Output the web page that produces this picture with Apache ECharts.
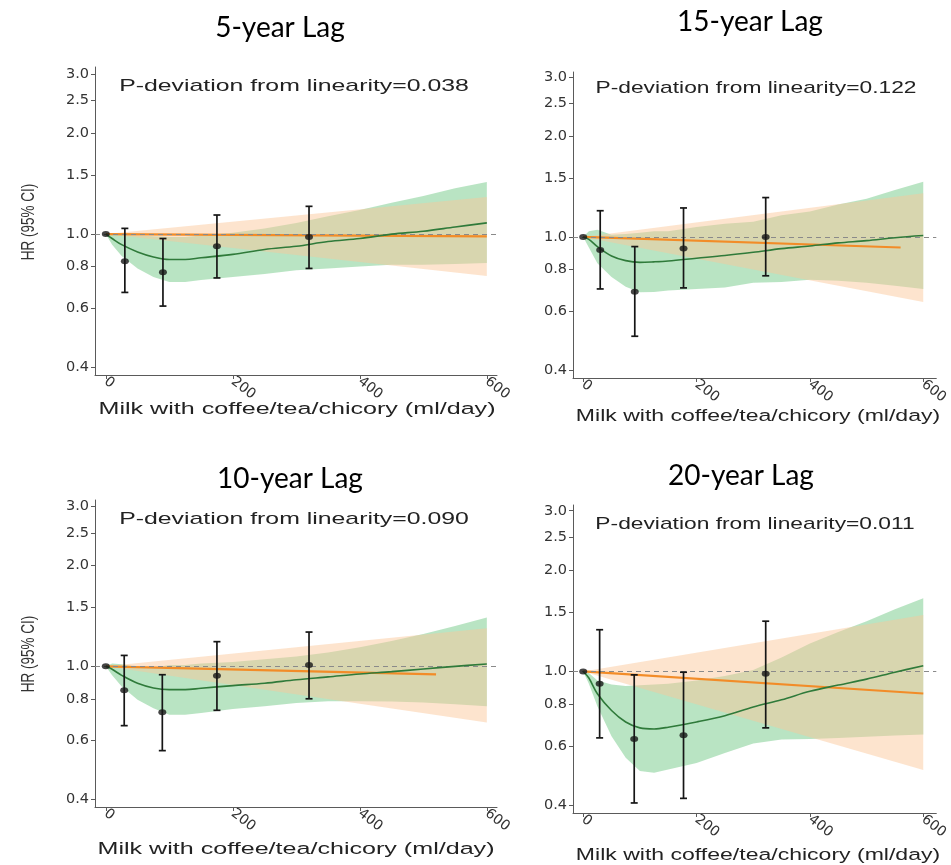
<!DOCTYPE html>
<html>
<head>
<meta charset="utf-8">
<script src="https://cdn.jsdelivr.net/npm/echarts@6/dist/echarts.min.js"></script>
<style>html,body{margin:0;padding:0;background:#fff}#c{width:951px;height:865px}</style>
</head>
<body>
<div id="c"></div>
<script>
// ---------- texts & ticks ----------
const panelTitles = ['5-year Lag', '15-year Lag', '10-year Lag', '20-year Lag'];
const pDeviation = ['0.038', '0.122', '0.090', '0.011'];
const xAxisTitle = 'Milk with coffee/tea/chicory (ml/day)';
const yAxisTitle = 'HR (95% CI)';
const xTickVals = [0, 200, 400, 600];
const yTickVals = [0.4, 0.6, 0.8, 1.0, 1.5, 2.0, 2.5, 3.0];

// ---------- spline x grid (ml/day) ----------
const splineX = [0, 10, 25, 50, 75, 100, 125, 150, 200, 250, 300, 350, 400, 450, 500, 550, 600];

// ---------- 5-year lag ----------
const spline5   = [1.0, 0.97, 0.93, 0.885, 0.855, 0.84, 0.84, 0.85, 0.87, 0.90, 0.92, 0.95, 0.97, 1.0, 1.02, 1.05, 1.08];
const splineLo5 = [1.0, 0.93, 0.86, 0.79, 0.745, 0.72, 0.72, 0.73, 0.745, 0.76, 0.78, 0.79, 0.80, 0.81, 0.81, 0.815, 0.82];
const splineHi5 = [1.0, 1.0, 0.995, 0.99, 0.985, 0.98, 0.98, 0.99, 1.01, 1.04, 1.08, 1.13, 1.18, 1.24, 1.30, 1.37, 1.43];
const linX5 = [0, 600];      const lin5 = [1.0, 0.985];
const linBandX5 = [0, 600];  const linLo5 = [1.0, 0.75];  const linHi5 = [1.0, 1.29];
const catX5  = [0, 30, 90, 175, 320];
const catHR5 = [1.0, 0.83, 0.77, 0.92, 0.98];
const catLo5 = [1.0, 0.67, 0.61, 0.74, 0.79];
const catHi5 = [1.0, 1.04, 0.97, 1.14, 1.21];

// ---------- 15-year lag ----------
const spline15   = [1.0, 0.984, 0.936, 0.878, 0.85, 0.84, 0.843, 0.848, 0.864, 0.88, 0.90, 0.923, 0.94, 0.96, 0.975, 0.995, 1.01];
const splineLo15 = [1.0, 0.93, 0.835, 0.76, 0.71, 0.684, 0.685, 0.693, 0.70, 0.707, 0.73, 0.734, 0.745, 0.74, 0.73, 0.715, 0.70];
const splineHi15 = [1.0, 1.04, 1.05, 1.015, 1.02, 1.03, 1.04, 1.04, 1.07, 1.095, 1.11, 1.16, 1.19, 1.25, 1.30, 1.38, 1.46];
const linX15 = [0, 560];     const lin15 = [1.0, 0.93];
const linBandX15 = [0, 600]; const linLo15 = [1.0, 0.64]; const linHi15 = [1.0, 1.35];
const catX15  = [0, 30, 91, 177, 322];
const catHR15 = [1.0, 0.915, 0.687, 0.923, 1.0];
const catLo15 = [1.0, 0.70, 0.506, 0.705, 0.766];
const catHi15 = [1.0, 1.197, 0.936, 1.22, 1.31];

// ---------- 10-year lag ----------
const spline10   = [1.0, 0.98, 0.94, 0.89, 0.862, 0.852, 0.852, 0.86, 0.876, 0.89, 0.912, 0.93, 0.949, 0.964, 0.982, 1.0, 1.016];
const splineLo10 = [1.0, 0.94, 0.87, 0.795, 0.75, 0.717, 0.717, 0.726, 0.746, 0.76, 0.777, 0.786, 0.786, 0.785, 0.78, 0.77, 0.76];
const splineHi10 = [1.0, 1.02, 1.015, 0.995, 0.99, 1.01, 1.01, 1.02, 1.03, 1.05, 1.07, 1.10, 1.14, 1.19, 1.25, 1.32, 1.40];
const linX10 = [0, 520];     const lin10 = [1.0, 0.946];
const linBandX10 = [0, 600]; const linLo10 = [1.0, 0.68]; const linHi10 = [1.0, 1.30];
const catX10  = [0, 29, 89, 175, 320];
const catHR10 = [1.0, 0.848, 0.729, 0.938, 1.01];
const catLo10 = [1.0, 0.665, 0.56, 0.739, 0.80];
const catHi10 = [1.0, 1.078, 0.944, 1.185, 1.266];

// ---------- 20-year lag ----------
const spline20   = [1.0, 0.956, 0.859, 0.766, 0.708, 0.68, 0.675, 0.683, 0.708, 0.739, 0.784, 0.824, 0.873, 0.911, 0.949, 0.995, 1.04];
const splineLo20 = [1.0, 0.92, 0.788, 0.642, 0.554, 0.506, 0.50, 0.512, 0.535, 0.573, 0.611, 0.628, 0.63, 0.635, 0.64, 0.645, 0.65];
const splineHi20 = [1.0, 0.99, 0.94, 0.915, 0.905, 0.91, 0.915, 0.92, 0.94, 0.97, 1.01, 1.10, 1.21, 1.31, 1.41, 1.53, 1.65];
const linX20 = [0, 600];     const lin20 = [1.0, 0.86];
const linBandX20 = [0, 600]; const linLo20 = [1.0, 0.51]; const linHi20 = [1.0, 1.47];
const catX20  = [0, 29, 90, 177, 322];
const catHR20 = [1.0, 0.919, 0.63, 0.646, 0.984];
const catLo20 = [1.0, 0.635, 0.407, 0.42, 0.68];
const catHi20 = [1.0, 1.33, 0.977, 0.995, 1.41];

// panel order: top-left, top-right, bottom-left, bottom-right
const panels = [
  {spline: spline5,  lo: splineLo5,  hi: splineHi5,  linX: linX5,  lin: lin5,  bandX: linBandX5,  bLo: linLo5,  bHi: linHi5,  cx: catX5,  cy: catHR5,  cl: catLo5,  ch: catHi5},
  {spline: spline15, lo: splineLo15, hi: splineHi15, linX: linX15, lin: lin15, bandX: linBandX15, bLo: linLo15, bHi: linHi15, cx: catX15, cy: catHR15, cl: catLo15, ch: catHi15},
  {spline: spline10, lo: splineLo10, hi: splineHi10, linX: linX10, lin: lin10, bandX: linBandX10, bLo: linLo10, bHi: linHi10, cx: catX10, cy: catHR10, cl: catLo10, ch: catHi10},
  {spline: spline20, lo: splineLo20, hi: splineHi20, linX: linX20, lin: lin20, bandX: linBandX20, bLo: linLo20, bHi: linHi20, cx: catX20, cy: catHR20, cl: catLo20, ch: catHi20}
];

// ---------- layout (pixels) ----------
const gridBoxes = [
  {left: 95,  top: 67,  width: 402, height: 308},
  {left: 573, top: 72,  width: 369, height: 306},
  {left: 95,  top: 500, width: 402, height: 307},
  {left: 573, top: 505, width: 369, height: 308}
];
const xRanges = [[-17, 616], [-18, 623], [-17, 616], [-18, 623]];
const yMaxes = [3.15, 3.1, 3.14, 3.12];
const yMin = 0.38;
const titlePos = [[280, 28], [750, 22], [290, 479], [741, 476]];
const pDevPos = [[294, 86], [756, 88], [294, 519], [755, 524]];
const xNamePos = [[297, 409], [758, 416], [296, 849], [758, 855]];
const stretch = [1.46, 1.34, 1.46, 1.34];
const yNamePos = [[29, 222], null, [29, 654], null];

const GREEN_BAND = 'rgba(55,178,84,0.35)';
const ORANGE_BAND = 'rgba(250,198,152,0.48)';
const GREEN_LINE = '#2f7a3a';
const ORANGE_LINE = '#f28c28';
const POINT = '#161616';

function bandSeries(i, xs, lo, hi, color, z) {
  return {
    type: 'custom', xAxisIndex: i, yAxisIndex: i, silent: true, clip: true, z: z,
    data: xs.map((x, k) => [x, lo[k], hi[k]]),
    encode: {x: 0, y: [1, 2]},
    renderItem: function (params, api) {
      if (params.dataIndex !== 0) return null;
      const pts = [];
      for (let k = 0; k < xs.length; k++) pts.push(api.coord([xs[k], hi[k]]));
      for (let k = xs.length - 1; k >= 0; k--) pts.push(api.coord([xs[k], lo[k]]));
      return {type: 'polygon', shape: {points: pts}, style: {fill: color}};
    }
  };
}

function errorBarSeries(i, xs, lo, hi) {
  return {
    type: 'custom', xAxisIndex: i, yAxisIndex: i, silent: true, z: 8,
    data: xs.map((x, k) => [x, lo[k], hi[k]]),
    encode: {x: 0, y: [1, 2]},
    renderItem: function (params, api) {
      const x = api.value(0), l = api.value(1), h = api.value(2);
      if (l === h) return null;
      const a = api.coord([x, h]), b = api.coord([x, l]);
      const w = 3.5;
      const st = {stroke: POINT, lineWidth: 1.7};
      return {type: 'group', children: [
        {type: 'line', shape: {x1: a[0], y1: a[1], x2: b[0], y2: b[1]}, style: st},
        {type: 'line', shape: {x1: a[0] - w, y1: a[1], x2: a[0] + w, y2: a[1]}, style: st},
        {type: 'line', shape: {x1: b[0] - w, y1: b[1], x2: b[0] + w, y2: b[1]}, style: st}
      ]};
    }
  };
}

const grid = [], xAxis = [], yAxis = [], series = [], graphic = [];
const axisColor = '#5a5a5a';
panels.forEach((p, i) => {
  grid.push(Object.assign({containLabel: false}, gridBoxes[i]));
  xAxis.push({
    type: 'value', gridIndex: i, min: xRanges[i][0], max: xRanges[i][1],
    splitLine: {show: false},
    axisLine: {onZero: false, lineStyle: {color: axisColor, width: 1}},
    axisTick: {customValues: xTickVals, length: 4, lineStyle: {color: axisColor}},
    axisLabel: {customValues: xTickVals, rotate: -38, margin: 5, color: '#333',
      fontFamily: 'DejaVu Sans', fontSize: 14}
  });
  yAxis.push({
    type: 'log', logBase: 10, gridIndex: i, min: yMin, max: yMaxes[i],
    splitLine: {show: false},
    axisLine: {show: true, onZero: false, lineStyle: {color: axisColor, width: 1}},
    axisTick: {show: true, customValues: yTickVals, length: 4, lineStyle: {color: axisColor}},
    axisLabel: {customValues: yTickVals, margin: 6, color: '#333',
      fontFamily: 'DejaVu Sans', fontSize: 14.5,
      formatter: v => Number(v).toFixed(1)}
  });
  series.push(bandSeries(i, splineX, p.lo, p.hi, GREEN_BAND, 1));
  series.push(bandSeries(i, p.bandX, p.bLo, p.bHi, ORANGE_BAND, 2));
  series.push({
    type: 'line', xAxisIndex: i, yAxisIndex: i, z: 4, silent: true,
    data: p.linX.map((x, k) => [x, p.lin[k]]),
    showSymbol: false, lineStyle: {color: ORANGE_LINE, width: 2.2},
    markLine: {
      silent: true, symbol: 'none', label: {show: false},
      lineStyle: {color: '#8a8a8a', type: [5, 4], width: 1},
      data: [{yAxis: 1}]
    }
  });
  series.push({
    type: 'line', xAxisIndex: i, yAxisIndex: i, z: 5, silent: true,
    data: splineX.map((x, k) => [x, p.spline[k]]),
    smooth: 0.35, showSymbol: false, lineStyle: {color: GREEN_LINE, width: 1.6}
  });
  series.push(errorBarSeries(i, p.cx, p.cl, p.ch));
  series.push({
    type: 'scatter', xAxisIndex: i, yAxisIndex: i, z: 9, silent: true,
    data: p.cx.map((x, k) => [x, p.cy[k]]),
    symbol: 'circle', symbolSize: [8, 6], itemStyle: {color: POINT}
  });

  graphic.push({type: 'text', x: titlePos[i][0], y: titlePos[i][1], silent: true,
    style: {text: panelTitles[i], fontFamily: 'Lato', fontSize: 28, fill: '#000',
      textAlign: 'center', textVerticalAlign: 'middle', align: 'center', verticalAlign: 'middle'}});
  graphic.push({type: 'text', x: pDevPos[i][0], y: pDevPos[i][1], scaleX: stretch[i], silent: true,
    style: {text: 'P-deviation from linearity=' + pDeviation[i], fontFamily: 'Liberation Sans', fontSize: 17, fill: '#222',
      textAlign: 'center', textVerticalAlign: 'middle', align: 'center', verticalAlign: 'middle'}});
  graphic.push({type: 'text', x: xNamePos[i][0], y: xNamePos[i][1], scaleX: stretch[i], silent: true,
    style: {text: xAxisTitle, fontFamily: 'Liberation Sans', fontSize: 17.2, fill: '#222',
      textAlign: 'center', textVerticalAlign: 'middle', align: 'center', verticalAlign: 'middle'}});
  if (yNamePos[i]) {
    graphic.push({type: 'text', x: yNamePos[i][0], y: yNamePos[i][1], rotation: Math.PI / 2, scaleY: 1.35, silent: true,
      style: {text: yAxisTitle, fontFamily: 'Liberation Sans', fontSize: 13.5, fill: '#333',
        textAlign: 'center', textVerticalAlign: 'middle', align: 'center', verticalAlign: 'middle'}});
  }
});

const chart = echarts.init(document.getElementById('c'), null, {renderer: 'canvas'});
chart.setOption({
  animation: false,
  backgroundColor: '#ffffff',
  grid: grid, xAxis: xAxis, yAxis: yAxis, series: series, graphic: graphic
});
</script>
</body>
</html>
